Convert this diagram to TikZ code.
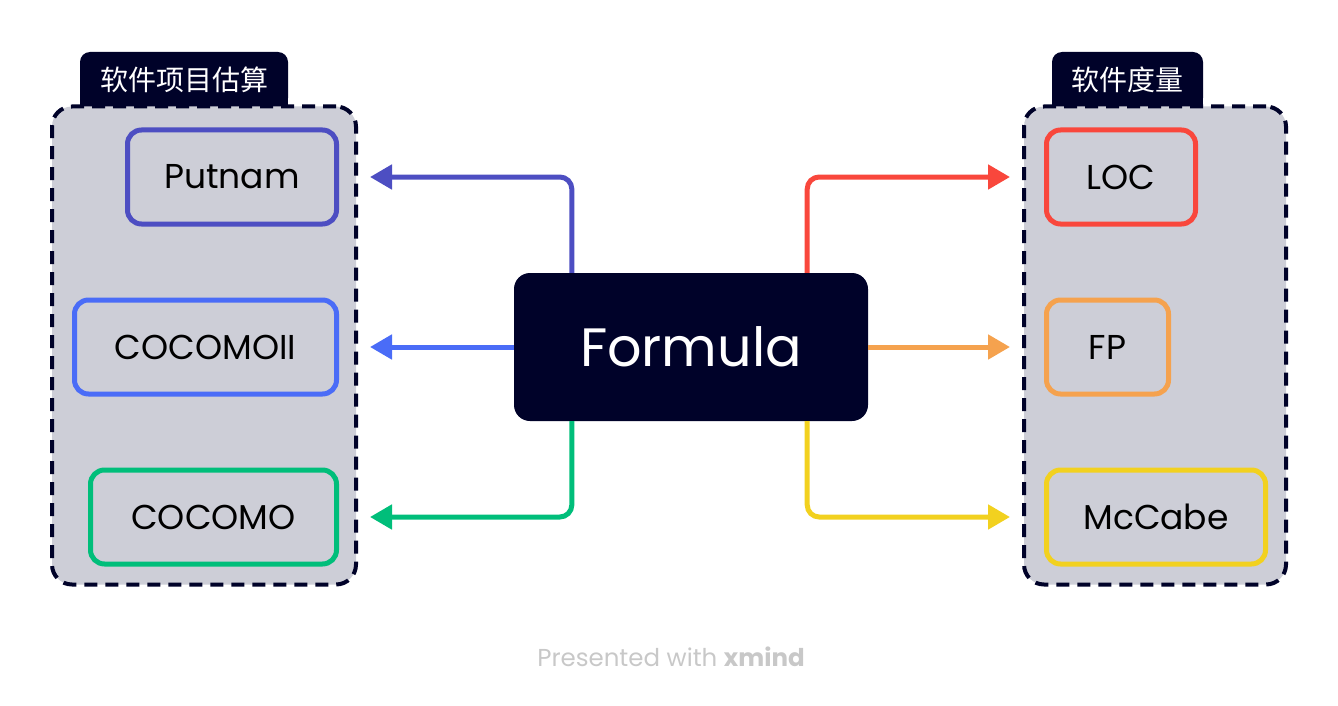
\documentclass[tikz,border=0pt]{standalone}
\usepackage{fontspec}
\setmainfont{Poppins}
\newfontfamily\cjk{Noto Sans CJK SC}
\usetikzlibrary{positioning,arrows.meta,backgrounds}
\definecolor{navy}{HTML}{000229}
\definecolor{panelgray}{HTML}{CDCED7}
\definecolor{cputnam}{HTML}{4D4EC2}
\definecolor{ccocomoii}{HTML}{4A6CF7}
\definecolor{ccocomo}{HTML}{00BE7A}
\definecolor{cloc}{HTML}{F9473C}
\definecolor{cfp}{HTML}{F5A24E}
\definecolor{cmccabe}{HTML}{F2D11F}
\definecolor{footgray}{HTML}{C8C8C8}
\tikzset{
  x=1pt, y=-1pt,
  panel/.style = {draw=navy, fill=panelgray, line width=4pt,
                  dash pattern=on 13pt off 8pt, rounded corners=20pt},
  tab/.style   = {fill=navy, text=white, rounded corners=10pt,
                  font=\cjk\fontsize{28}{33}\selectfont},
  topic/.style = {draw, fill=panelgray, line width=5pt, rounded corners=14pt,
                  minimum height=94pt, font=\fontsize{34.5}{40}\selectfont},
  central/.style = {fill=navy, text=white, rounded corners=16pt,
                  minimum width=354pt, minimum height=148pt,
                  font=\fontsize{54}{62}\selectfont},
  link/.style  = {line width=5pt, rounded corners=12pt,
                  -{Triangle[length=22pt,width=24pt]}, shorten >=12pt},
}
\newcommand{\DrawGroup}[6]{%
  % draws the title tab (sharp bottom is hidden under the panel)
  \node[tab, minimum width=#5, minimum height=56pt] (#1tab) at #2 {#6};
  \begin{scope}[on background layer]
    \fill[navy] (#1tab.west) rectangle (#1tab.south east);
  \end{scope}
  % draws the dashed panel below the tab
  \node[panel, minimum width=#4, minimum height=478pt] (#1panel) at #3 {};
}

\begin{document}
\begin{tikzpicture}
  \useasboundingbox (0,0) rectangle (1338,706);

  % left group
  \DrawGroup{left}{(184,80)}{(204,345.5)}{304pt}{208pt}{软件项目估算}
  \node[topic, draw=cputnam,   minimum width=209pt] (putnam)   at (232,177) {Putnam};
  \node[topic, draw=ccocomoii, minimum width=262pt] (cocomoii) at (205.5,347) {COCOMOII};
  \node[topic, draw=ccocomo,   minimum width=246pt] (cocomo)   at (213.5,517) {COCOMO};

  % right group
  \DrawGroup{right}{(1127.5,80)}{(1155,345.5)}{262pt}{151pt}{软件度量}
  \node[topic, draw=cloc,    minimum width=149pt] (loc)    at (1121,177) {LOC};
  \node[topic, draw=cfp,     minimum width=122pt] (fp)     at (1107.5,347) {FP};
  \node[topic, draw=cmccabe, minimum width=219pt] (mccabe) at (1156,517) {McCabe};

  % central topic
  \node[central] (formula) at (691,347) {Formula};

  % connectors
  \draw[link, cputnam]   ([xshift=58pt]formula.north west) |- (leftpanel.east |- putnam);
  \draw[link, ccocomoii] (formula.west) -- (leftpanel.east |- cocomoii);
  \draw[link, ccocomo]   ([xshift=58pt]formula.south west) |- (leftpanel.east |- cocomo);
  \draw[link, cloc]      ([xshift=-61pt]formula.north east) |- (rightpanel.west |- loc);
  \draw[link, cfp]       (formula.east) -- (rightpanel.west |- fp);
  \draw[link, cmccabe]   ([xshift=-61pt]formula.south east) |- (rightpanel.west |- mccabe);

  % footer
  \node[text=footgray, font=\fontsize{24.5}{29}\selectfont] (footer) at (671,657)
       {Presented with \textbf{xmind}};
\end{tikzpicture}
\end{document}
